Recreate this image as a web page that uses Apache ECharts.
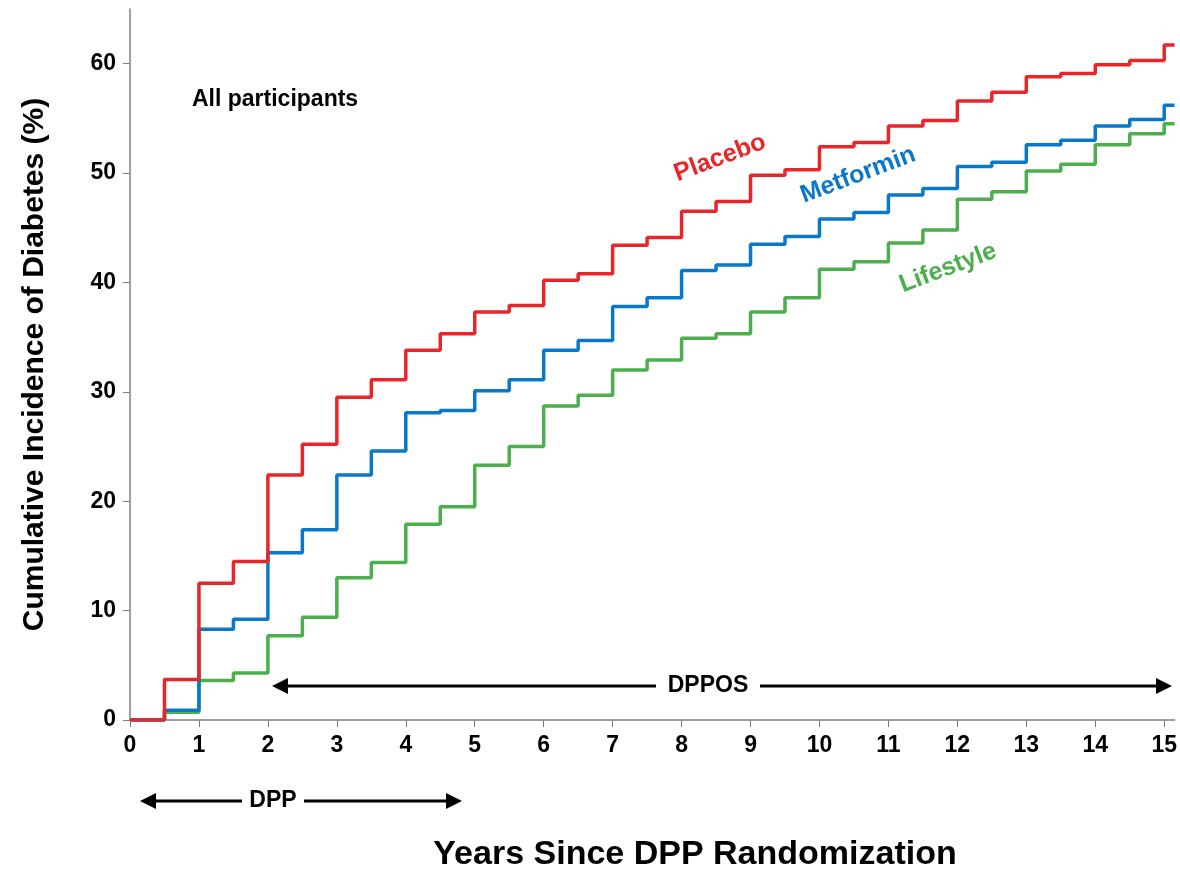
<!DOCTYPE html>
<html><head><meta charset="utf-8">
<script src="https://cdn.jsdelivr.net/npm/echarts@6/dist/echarts.min.js"></script>
<style>html,body{margin:0;background:#fff}#c{width:1180px;height:871px}</style>
</head><body><div id="c"></div>
<script>
// step starts every half year; value holds until next start
var stepStarts = [0,0.5,1,1.5,2,2.5,3,3.5,4,4.5,5,5.5,6,6.5,7,7.5,8,8.5,9,9.5,10,10.5,11,11.5,12,12.5,13,13.5,14,14.5,15];
var placebo = [0,3.7,12.5,14.5,22.4,25.2,29.5,31.1,33.8,35.3,37.3,37.9,40.2,40.8,43.4,44.1,46.5,47.4,49.8,50.3,52.4,52.8,54.3,54.8,56.6,57.4,58.8,59.1,59.9,60.3,61.7];
var metformin = [0,0.9,8.3,9.2,15.3,17.4,22.4,24.6,28.1,28.3,30.1,31.1,33.8,34.7,37.8,38.6,41.1,41.6,43.5,44.2,45.8,46.4,48.0,48.6,50.6,51.0,52.6,53.0,54.3,54.9,56.2];
var lifestyle = [0,0.7,3.6,4.3,7.7,9.4,13.0,14.4,17.9,19.5,23.3,25.0,28.7,29.7,32.0,32.9,34.9,35.3,37.3,38.6,41.2,41.9,43.6,44.8,47.6,48.3,50.2,50.8,52.6,53.6,54.5];
var xEnd = 15.15;

function pts(vals) {
  var d = stepStarts.map(function(x, i) { return [x, vals[i]]; });
  d.push([xEnd, vals[vals.length - 1]]);
  return d;
}
function line(name, vals, color) {
  return { name: name, type: 'line', step: 'end', data: pts(vals), showSymbol: false,
    lineStyle: { color: color, width: 3.5 }, itemStyle: { color: color } };
}
function arrow(x1, x2, y) {
  return [
    { type: 'line', shape: { x1: x1 + 8, y1: y, x2: x2 - 8, y2: y }, style: { stroke: '#000', lineWidth: 3 } },
    { type: 'polygon', shape: { points: [[x1, y], [x1 + 16, y - 8], [x1 + 16, y + 8]] }, style: { fill: '#000' } },
    { type: 'polygon', shape: { points: [[x2, y], [x2 - 16, y - 8], [x2 - 16, y + 8]] }, style: { fill: '#000' } }
  ];
}
var font = 'Liberation Sans';
var chart = echarts.init(document.getElementById('c'));
var graphics = [].concat(arrow(272, 1172, 686), arrow(140, 462, 801));
graphics.push(
  { type: 'rect', shape: { x: 656, y: 672, width: 104, height: 28 }, style: { fill: '#fff' } },
  { type: 'text', x: 708, y: 686, style: { text: 'DPPOS', font: 'bold 23px ' + font, fill: '#000', align: 'center', verticalAlign: 'middle' } },
  { type: 'rect', shape: { x: 242, y: 787, width: 62, height: 28 }, style: { fill: '#fff' } },
  { type: 'text', x: 273, y: 801, style: { text: 'DPP', font: 'bold 23px ' + font, fill: '#000', align: 'center', verticalAlign: 'middle' } },
  { type: 'text', x: 192, y: 100, style: { text: 'All participants', font: 'bold 23px ' + font, fill: '#000', verticalAlign: 'middle' } },
  { type: 'text', x: 720, y: 158, rotation: 0.36, style: { text: 'Placebo', font: 'bold 25px ' + font, fill: '#e8262a', align: 'center', verticalAlign: 'middle' } },
  { type: 'text', x: 858, y: 175, rotation: 0.36, style: { text: 'Metformin', font: 'bold 25px ' + font, fill: '#0a78c8', align: 'center', verticalAlign: 'middle' } },
  { type: 'text', x: 948, y: 268, rotation: 0.36, style: { text: 'Lifestyle', font: 'bold 25px ' + font, fill: '#4cae4c', align: 'center', verticalAlign: 'middle' } },
  { type: 'text', x: 695, y: 855, style: { text: 'Years Since DPP Randomization', font: 'bold 34px ' + font, fill: '#000', align: 'center', verticalAlign: 'middle' } }
);
chart.setOption({
  animation: false,
  backgroundColor: '#fff',
  grid: { left: 130, right: 0, top: 9, bottom: 151 },
  xAxis: { type: 'value', min: 0, max: xEnd, interval: 1,
    axisLine: { lineStyle: { color: '#7f7f7f', width: 1.5 } },
    axisTick: { show: true, length: 7, lineStyle: { color: '#7f7f7f' } },
    axisLabel: { color: '#000', fontFamily: font, fontWeight: 'bold', fontSize: 23, margin: 14, showMaxLabel: false },
    splitLine: { show: false } },
  yAxis: { type: 'value', min: 0, max: 65, interval: 10,
    name: 'Cumulative Incidence of Diabetes (%)', nameLocation: 'middle', nameGap: 80,
    nameTextStyle: { color: '#000', fontFamily: font, fontWeight: 'bold', fontSize: 30 },
    axisLine: { show: true, lineStyle: { color: '#7f7f7f', width: 1.5 } },
    axisTick: { show: true, length: 7, lineStyle: { color: '#7f7f7f' } },
    axisLabel: { color: '#000', fontFamily: font, fontWeight: 'bold', fontSize: 23, margin: 14, showMaxLabel: false },
    splitLine: { show: false } },
  series: [
    line('Lifestyle', lifestyle, '#4cae4c'),
    line('Metformin', metformin, '#0a78c8'),
    line('Placebo', placebo, '#e8262a')
  ],
  graphic: graphics
});
</script></body></html>
